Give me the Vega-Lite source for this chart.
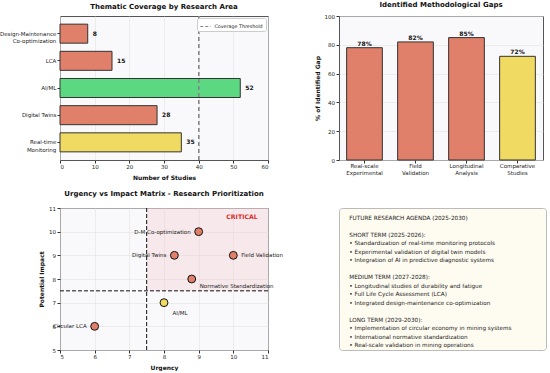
{
  "$schema": "https://vega.github.io/schema/vega-lite/v6.json",
  "padding": {"left": -2, "top": 0, "right": 0, "bottom": 0},
  "background": "white",
  "bounds": "flush",
  "columns": 2,
  "spacing": {"row": 48, "column": 71},
  "config": {
    "font": "DejaVu Sans",
    "view": {"fill": "#F9F9FB", "stroke": "#555555", "strokeWidth": 1},
    "axis": {
      "domain": false, "tickColor": "#333333", "tickSize": 3, "labelPadding": 1.5,
      "labelFontSize": 5.5, "labelColor": "#222222", "labelOverlap": false, "labelLineHeight": 7.4,
      "titleFontSize": 6, "titleFontWeight": "bold", "titleColor": "#111111",
      "gridColor": "#E3E3E3", "gridWidth": 0.6, "titlePadding": 4
    },
    "title": {"fontSize": 7.0, "fontWeight": "bold", "color": "#111111", "anchor": "middle"}
  },
  "concat": [
    {
      "width": 208, "height": 144,
      "title": {"text": "Thematic Coverage by Research Area", "offset": 6},
      "data": {"values": [
        {"area": "Design-Maintenance Co-optimization", "studies": 8, "level": "low"},
        {"area": "LCA", "studies": 15, "level": "low"},
        {"area": "AI/ML", "studies": 52, "level": "high"},
        {"area": "Digital Twins", "studies": 28, "level": "low"},
        {"area": "Real-time Monitoring", "studies": 35, "level": "medium"}
      ]},
      "layer": [
        {
          "mark": {"type": "bar", "stroke": "#333333", "strokeWidth": 1},
          "encoding": {
            "y": {"field": "area", "type": "nominal", "sort": null, "title": null,
                  "scale": {"paddingInner": 0.3, "paddingOuter": 0.3},
                  "axis": {"labelExpr": "datum.value == 'Digital Twins' ? datum.value : split(datum.value, ' ')", "grid": false, "labelPadding": 1.2}},
            "x": {"field": "studies", "type": "quantitative", "scale": {"domain": [0, 60], "nice": false},
                  "axis": {"values": [0, 10, 20, 30, 40, 50, 60], "tickCount": 7, "labelOverlap": false, "title": "Number of Studies", "grid": true}},
            "fill": {"field": "level", "type": "nominal",
                     "scale": {"domain": ["low", "medium", "high"], "range": ["#E0806A", "#F0DA62", "#5CD882"]},
                     "legend": null}
          }
        },
        {
          "mark": {"type": "text", "align": "left", "baseline": "middle", "dx": 5, "fontWeight": "bold", "fontSize": 6, "color": "#111111"},
          "encoding": {
            "y": {"field": "area", "type": "nominal", "sort": null},
            "x": {"field": "studies", "type": "quantitative"},
            "text": {"field": "studies", "type": "quantitative"}
          }
        },
        {
          "mark": {"type": "rule", "strokeDash": [4, 3], "strokeWidth": 1},
          "encoding": {
            "x": {"datum": 40, "type": "quantitative"},
            "stroke": {"datum": "Coverage Threshold", "type": "nominal",
                       "scale": {"range": ["#888888"]},
                       "legend": {"orient": "none", "legendX": 137, "legendY": 2, "title": null,
                                  "labelFontSize": 4.8, "labelColor": "#222222", "labelOffset": 3,
                                  "symbolType": "stroke", "symbolDash": [3, 2], "symbolStrokeWidth": 1, "symbolSize": 110,
                                  "fillColor": "white", "strokeColor": "#CCCCCC", "padding": 2.5, "cornerRadius": 2}}
          }
        }
      ]
    },
    {
      "width": 204, "height": 144,
      "title": {"text": "Identified Methodological Gaps", "offset": 6},
      "data": {"values": [
        {"gap": "Real-scale Experimental", "pct": 78, "level": "low"},
        {"gap": "Field Validation", "pct": 82, "level": "low"},
        {"gap": "Longitudinal Analysis", "pct": 85, "level": "low"},
        {"gap": "Comparative Studies", "pct": 72, "level": "medium"}
      ]},
      "layer": [
        {
          "mark": {"type": "bar", "stroke": "#333333", "strokeWidth": 1},
          "encoding": {
            "x": {"field": "gap", "type": "nominal", "sort": null, "title": null,
                  "scale": {"paddingInner": 0.3, "paddingOuter": 0.15},
                  "axis": {"labelExpr": "split(datum.value, ' ')", "labelAngle": 0, "grid": false, "labelPadding": 0.5}},
            "y": {"field": "pct", "type": "quantitative", "scale": {"domain": [0, 100], "nice": false},
                  "axis": {"values": [0, 20, 40, 60, 80, 100], "tickCount": 6, "labelOverlap": false, "title": "% of Identified Gap", "grid": true}},
            "fill": {"field": "level", "type": "nominal",
                     "scale": {"domain": ["low", "medium"], "range": ["#E0806A", "#F0DA62"]},
                     "legend": null}
          }
        },
        {
          "mark": {"type": "text", "baseline": "bottom", "dy": -1, "fontWeight": "bold", "fontSize": 6, "color": "#111111",
                   "text": {"expr": "datum.pct + '%'"}},
          "encoding": {
            "x": {"field": "gap", "type": "nominal", "sort": null},
            "y": {"field": "pct", "type": "quantitative"}
          }
        }
      ]
    },
    {
      "width": 208, "height": 142,
      "title": {"text": "Urgency vs Impact Matrix - Research Prioritization", "offset": 9},
      "layer": [
        {
          "data": {"values": [{"u1": 7.5, "u2": 11, "i1": 7.5, "i2": 11}]},
          "mark": {"type": "rect", "fill": "#F5B7BA", "opacity": 0.25},
          "encoding": {
            "x": {"field": "u1", "type": "quantitative", "scale": {"domain": [5, 11], "nice": false, "zero": false},
                  "axis": {"values": [5, 6, 7, 8, 9, 10, 11], "tickCount": 7, "labelOverlap": false, "title": "Urgency", "grid": true}},
            "x2": {"field": "u2"},
            "y": {"field": "i1", "type": "quantitative", "scale": {"domain": [5, 11], "nice": false, "zero": false},
                  "axis": {"values": [5, 6, 7, 8, 9, 10, 11], "tickCount": 7, "labelOverlap": false, "title": "Potential Impact", "grid": true}},
            "y2": {"field": "i2"}
          }
        },
        {
          "data": {"values": [{"v": 7.5}]},
          "mark": {"type": "rule", "color": "#111111", "strokeDash": [4, 2], "strokeWidth": 1},
          "encoding": {"x": {"field": "v", "type": "quantitative"}}
        },
        {
          "data": {"values": [{"v": 7.5}]},
          "mark": {"type": "rule", "color": "#111111", "strokeDash": [4, 2], "strokeWidth": 1},
          "encoding": {"y": {"field": "v", "type": "quantitative"}}
        },
        {
          "data": {"name": "pts"},
          "mark": {"type": "circle", "size": 62, "stroke": "#111111", "strokeWidth": 1, "opacity": 1},
          "encoding": {
            "x": {"field": "urgency", "type": "quantitative"},
            "y": {"field": "impact", "type": "quantitative"},
            "fill": {"field": "level", "type": "nominal",
                     "scale": {"domain": ["low", "medium"], "range": ["#E0806A", "#F0DA62"]}, "legend": null}
          }
        },
        {
          "data": {"name": "pts"},
          "transform": [{"filter": "indexof(['D-M Co-optimization', 'Digital Twins', 'Circular LCA'], datum.name) >= 0"}],
          "mark": {"type": "text", "align": "right", "baseline": "middle", "dx": -8, "fontSize": 5.5, "color": "#222222"},
          "encoding": {
            "x": {"field": "urgency", "type": "quantitative"},
            "y": {"field": "impact", "type": "quantitative"},
            "text": {"field": "name"}
          }
        },
        {
          "data": {"name": "pts"},
          "transform": [{"filter": "datum.name == 'Field Validation'"}],
          "mark": {"type": "text", "align": "left", "baseline": "middle", "dx": 8, "fontSize": 5.5, "color": "#222222"},
          "encoding": {
            "x": {"field": "urgency", "type": "quantitative"},
            "y": {"field": "impact", "type": "quantitative"},
            "text": {"field": "name"}
          }
        },
        {
          "data": {"name": "pts"},
          "transform": [{"filter": "datum.name == 'Normative Standardization'"}],
          "mark": {"type": "text", "align": "left", "baseline": "middle", "dx": 8, "dy": 7, "fontSize": 5.5, "color": "#222222"},
          "encoding": {
            "x": {"field": "urgency", "type": "quantitative"},
            "y": {"field": "impact", "type": "quantitative"},
            "text": {"field": "name"}
          }
        },
        {
          "data": {"name": "pts"},
          "transform": [{"filter": "datum.name == 'AI/ML'"}],
          "mark": {"type": "text", "align": "left", "baseline": "middle", "dx": 8.5, "dy": 10.5, "fontSize": 5.5, "color": "#222222"},
          "encoding": {
            "x": {"field": "urgency", "type": "quantitative"},
            "y": {"field": "impact", "type": "quantitative"},
            "text": {"field": "name"}
          }
        },
        {
          "data": {"values": [{"u": 10.25, "i": 10.62, "label": "CRITICAL"}]},
          "mark": {"type": "text", "align": "center", "baseline": "middle", "fontSize": 6.2, "fontWeight": "bold", "color": "#D9302A"},
          "encoding": {
            "x": {"field": "u", "type": "quantitative"},
            "y": {"field": "i", "type": "quantitative"},
            "text": {"field": "label"}
          }
        }
      ]
    },
    {
      "width": 207, "height": 142,
      "view": {"fill": "#FEFBF1", "stroke": "#BBBBBB", "cornerRadius": 3},
      "data": {"values": [
        {"line": 0, "text": "FUTURE RESEARCH AGENDA (2025-2030)"},
        {"line": 2, "text": "SHORT TERM (2025-2026):"},
        {"line": 3, "text": "• Standardization of real-time monitoring protocols"},
        {"line": 4, "text": "• Experimental validation of digital twin models"},
        {"line": 5, "text": "• Integration of AI in predictive diagnostic systems"},
        {"line": 7, "text": "MEDIUM TERM (2027-2028):"},
        {"line": 8, "text": "• Longitudinal studies of durability and fatigue"},
        {"line": 9, "text": "• Full Life Cycle Assessment (LCA)"},
        {"line": 10, "text": "• Integrated design-maintenance co-optimization"},
        {"line": 12, "text": "LONG TERM (2029-2030):"},
        {"line": 13, "text": "• Implementation of circular economy in mining systems"},
        {"line": 14, "text": "• International normative standardization"},
        {"line": 15, "text": "• Real-scale validation in mining operations"}
      ]},
      "mark": {"type": "text", "align": "left", "baseline": "middle", "fontSize": 5.7, "color": "#222222"},
      "encoding": {
        "x": {"datum": 0.05, "type": "quantitative", "scale": {"domain": [0, 1], "nice": false, "zero": false}, "axis": null},
        "y": {"field": "line", "type": "quantitative", "scale": {"domain": [-1.14, 15.56], "reverse": true, "nice": false, "zero": false}, "axis": null},
        "text": {"field": "text"}
      }
    }
  ],
  "datasets": {
    "pts": [
      {"name": "D-M Co-optimization", "urgency": 9, "impact": 10, "level": "low"},
      {"name": "Digital Twins", "urgency": 8.3, "impact": 9, "level": "low"},
      {"name": "Field Validation", "urgency": 10, "impact": 9, "level": "low"},
      {"name": "Normative Standardization", "urgency": 8.8, "impact": 8, "level": "low"},
      {"name": "AI/ML", "urgency": 8, "impact": 7, "level": "medium"},
      {"name": "Circular LCA", "urgency": 6, "impact": 6, "level": "low"}
    ]
  }
}
